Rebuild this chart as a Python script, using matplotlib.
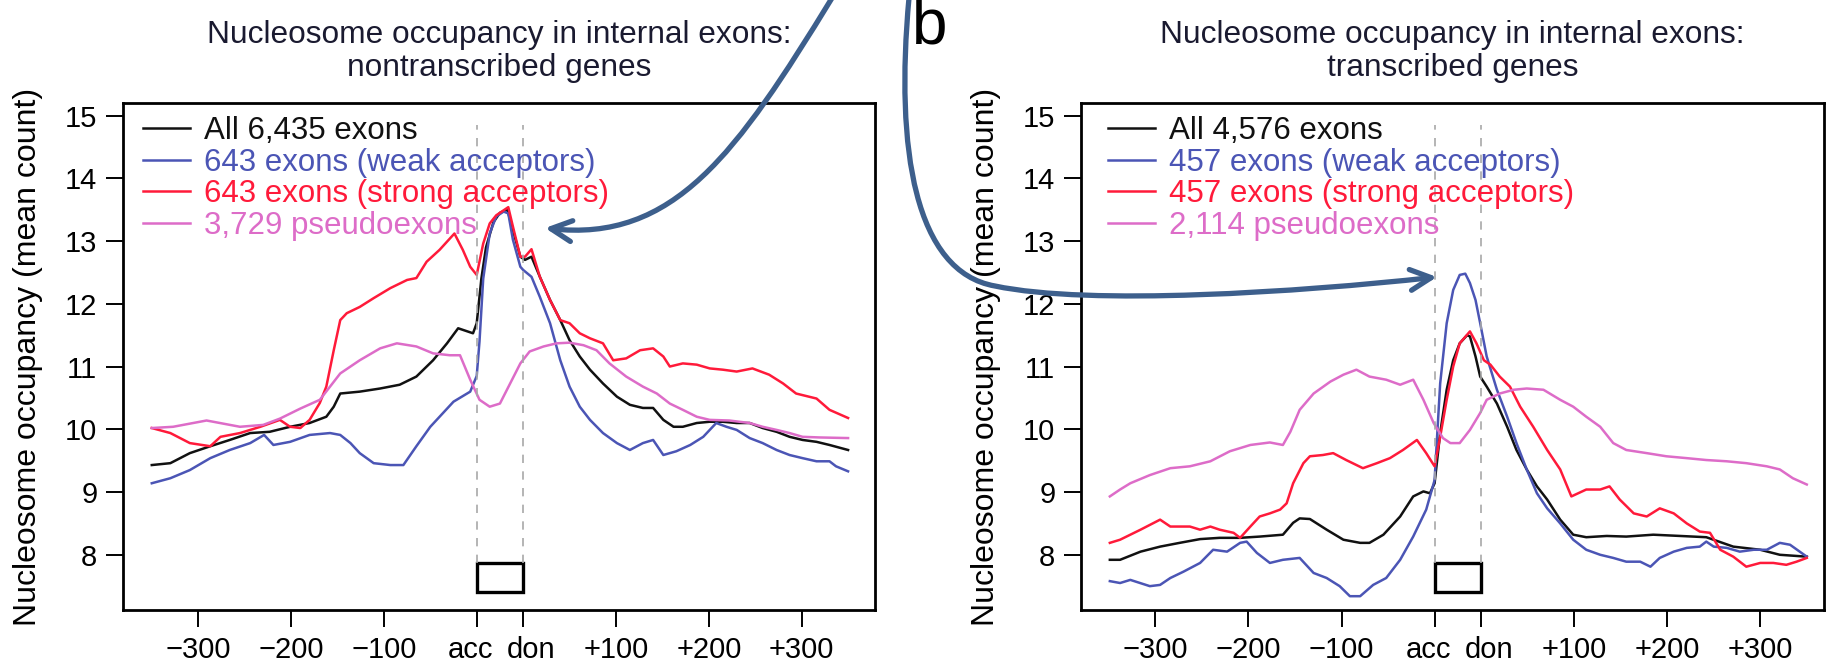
import matplotlib.pyplot as plt
from matplotlib.path import Path
from matplotlib.patches import FancyArrowPatch, Rectangle
from matplotlib.transforms import ScaledTranslation

plt.rcParams['font.family'] = ['Liberation Sans', 'DejaVu Sans']

# eixo x: acc = 0, don = 50, downstream medido a partir do don (+100 -> 150)
tick_pos = [-300, -200, -100, 0, 50, 150, 250, 350]
tick_lab = ['\u2212300', '\u2212200', '\u2212100', 'acc', 'don', '+100', '+200', '+300']

cores = ['#111111', '#4b55b5', '#ff1a3a', '#dd6cc8']

# painel a: genes nao transcritos
left_black_x = [-350, -330, -309, -287, -266, -244, -223, -201, -180, -162,
                -154, -147, -126, -104, -83, -65, -47, -32, -20, -4,
                0, 5, 10, 18, 25, 33, 40, 47, 52, 59,
                68, 79, 90, 100, 111, 122, 136, 151, 165, 179,
                190, 201, 212, 222, 237, 251, 265, 280, 294, 308,
                323, 337, 351, 366, 380, 400]
left_black_y = [9.43, 9.46, 9.62, 9.73, 9.83, 9.94, 9.96, 10.04, 10.10, 10.20,
                10.36, 10.57, 10.60, 10.65, 10.71, 10.84, 11.10, 11.37, 11.61, 11.53,
                11.69, 12.40, 12.90, 13.30, 13.45, 13.50, 13.12, 12.75, 12.70, 12.75,
                12.43, 12.06, 11.74, 11.42, 11.16, 10.95, 10.73, 10.52, 10.39, 10.34,
                10.34, 10.15, 10.04, 10.04, 10.10, 10.12, 10.12, 10.10, 10.10, 10.02,
                9.96, 9.88, 9.83, 9.80, 9.75, 9.67]

left_blue_x = [-350, -330, -309, -287, -266, -244, -229, -219, -201, -180,
               -158, -147, -136, -126, -111, -93, -79, -65, -50, -40,
               -25, -7, 0, 3, 7, 14, 21, 29, 34, 39,
               47, 50, 59, 68, 79, 90, 100, 111, 122, 136,
               151, 165, 179, 190, 201, 215, 230, 244, 258, 269,
               280, 294, 308, 323, 337, 351, 366, 380, 387, 400]
left_blue_y = [9.14, 9.22, 9.35, 9.54, 9.67, 9.78, 9.91, 9.75, 9.80, 9.91,
               9.94, 9.91, 9.78, 9.62, 9.46, 9.43, 9.43, 9.73, 10.04, 10.20,
               10.44, 10.60, 10.85, 11.40, 12.40, 13.12, 13.39, 13.47, 13.44, 13.02,
               12.59, 12.54, 12.43, 12.11, 11.69, 11.10, 10.68, 10.36, 10.15, 9.94,
               9.78, 9.67, 9.78, 9.83, 9.59, 9.65, 9.75, 9.88, 10.10, 10.04,
               9.99, 9.86, 9.78, 9.67, 9.59, 9.54, 9.49, 9.49, 9.41, 9.33]

left_red_x = [-350, -330, -309, -287, -276, -255, -233, -212, -201, -190,
              -180, -169, -162, -154, -147, -140, -126, -111, -93, -75,
              -65, -54, -40, -24, -15, -7, 0, 7, 14, 21,
              29, 34, 39, 47, 52, 59, 68, 79, 90, 100,
              111, 122, 136, 147, 161, 176, 190, 201, 208, 222,
              237, 251, 265, 280, 297, 315, 330, 344, 366, 380,
              400]
left_red_y = [10.02, 9.94, 9.78, 9.73, 9.88, 9.94, 10.04, 10.15, 10.04, 10.02,
              10.15, 10.42, 10.68, 11.26, 11.74, 11.85, 11.95, 12.09, 12.25, 12.38,
              12.41, 12.67, 12.86, 13.12, 12.86, 12.59, 12.46, 12.96, 13.28, 13.41,
              13.49, 13.54, 13.23, 12.75, 12.75, 12.87, 12.43, 12.06, 11.74, 11.69,
              11.53, 11.45, 11.37, 11.10, 11.13, 11.26, 11.29, 11.16, 11.00, 11.05,
              11.03, 10.97, 10.95, 10.92, 10.97, 10.87, 10.73, 10.57, 10.49, 10.31,
              10.18]

left_pink_x = [-350, -327, -291, -255, -230, -212, -190, -169, -147, -126,
               -104, -86, -65, -47, -29, -18, -7, 3, 14, 25,
               36, 47, 57, 72, 86, 100, 115, 129, 143, 161,
               179, 194, 208, 222, 237, 251, 272, 294, 308, 323,
               337, 351, 369, 400]
left_pink_y = [10.02, 10.04, 10.14, 10.04, 10.07, 10.17, 10.33, 10.47, 10.89, 11.10,
               11.29, 11.37, 11.32, 11.21, 11.18, 11.18, 10.79, 10.47, 10.36, 10.41,
               10.73, 11.05, 11.24, 11.32, 11.37, 11.38, 11.34, 11.26, 11.05, 10.84,
               10.68, 10.57, 10.41, 10.31, 10.20, 10.15, 10.14, 10.10, 10.04, 9.99,
               9.94, 9.88, 9.87, 9.86]

# painel b: genes transcritos
right_black_x = [-349, -338, -316, -295, -274, -252, -231, -209, -188, -163,
                 -152, -145, -134, -116, -98, -80, -70, -55, -37, -23,
                 -12, -5, 0, 6, 13, 20, 27, 35, 38, 44,
                 49, 56, 67, 78, 88, 99, 110, 121, 135, 149,
                 163, 185, 206, 235, 264, 292, 321, 350, 371, 400]
right_black_y = [7.92, 7.92, 8.05, 8.13, 8.19, 8.25, 8.27, 8.27, 8.29, 8.32,
                 8.51, 8.58, 8.57, 8.40, 8.24, 8.19, 8.19, 8.32, 8.61, 8.93,
                 9.01, 8.98, 9.14, 9.94, 10.63, 11.10, 11.37, 11.50, 11.48, 11.16,
                 10.84, 10.68, 10.41, 10.04, 9.67, 9.36, 9.09, 8.88, 8.56, 8.32,
                 8.28, 8.30, 8.29, 8.32, 8.30, 8.28, 8.13, 8.08, 8.00, 7.97]

right_blue_x = [-349, -338, -327, -306, -295, -284, -270, -252, -238, -223,
                -209, -202, -191, -177, -163, -145, -130, -116, -102, -91,
                -80, -66, -52, -37, -23, -9, 0, 6, 13, 20,
                27, 33, 38, 44, 49, 56, 67, 78, 88, 99,
                110, 121, 135, 149, 163, 178, 192, 206, 221, 232,
                242, 257, 271, 285, 292, 300, 314, 328, 343, 357,
                371, 382, 400]
right_blue_y = [7.58, 7.55, 7.60, 7.50, 7.52, 7.63, 7.73, 7.87, 8.08, 8.05,
                8.19, 8.21, 8.03, 7.87, 7.92, 7.95, 7.71, 7.63, 7.50, 7.34,
                7.34, 7.52, 7.63, 7.92, 8.29, 8.72, 9.19, 10.73, 11.69, 12.22,
                12.46, 12.48, 12.33, 12.06, 11.69, 11.16, 10.63, 10.20, 9.78, 9.36,
                8.98, 8.74, 8.50, 8.24, 8.08, 8.00, 7.95, 7.89, 7.89, 7.81,
                7.95, 8.05, 8.11, 8.13, 8.21, 8.13, 8.11, 8.05, 8.08, 8.08,
                8.19, 8.16, 7.97]

right_red_x = [-349, -338, -316, -295, -284, -263, -252, -241, -231, -216,
               -209, -198, -188, -177, -166, -159, -152, -141, -134, -120,
               -109, -95, -77, -62, -48, -34, -19, -9, 0, 6,
               13, 20, 27, 38, 45, 53, 60, 70, 81, 92,
               106, 121, 135, 147, 163, 178, 188, 199, 214, 228,
               242, 257, 271, 285, 296, 307, 321, 335, 350, 364,
               378, 389, 400]
right_red_y = [8.19, 8.24, 8.40, 8.56, 8.45, 8.45, 8.40, 8.45, 8.40, 8.35,
               8.27, 8.45, 8.61, 8.66, 8.72, 8.82, 9.14, 9.46, 9.57, 9.59,
               9.62, 9.51, 9.38, 9.46, 9.54, 9.67, 9.83, 9.62, 9.41, 9.88,
               10.47, 11.00, 11.37, 11.56, 11.37, 11.10, 11.03, 10.84, 10.68, 10.36,
               10.04, 9.67, 9.36, 8.93, 9.04, 9.04, 9.09, 8.88, 8.66, 8.61,
               8.74, 8.66, 8.50, 8.37, 8.35, 8.08, 7.97, 7.81, 7.87, 7.87,
               7.84, 7.89, 7.95]

right_pink_x = [-349, -338, -327, -306, -284, -263, -241, -220, -198, -177,
                -163, -155, -145, -130, -112, -98, -84, -70, -52, -37,
                -23, -12, -1, 9, 17, 27, 38, 49, 56, 70,
                85, 99, 117, 135, 149, 163, 178, 192, 206, 228,
                249, 271, 292, 314, 335, 357, 371, 385, 400]
right_pink_y = [8.93, 9.04, 9.14, 9.27, 9.38, 9.41, 9.49, 9.65, 9.75, 9.79,
                9.75, 9.96, 10.31, 10.57, 10.76, 10.87, 10.95, 10.84, 10.79, 10.71,
                10.79, 10.47, 10.10, 9.86, 9.78, 9.78, 9.99, 10.26, 10.47, 10.57,
                10.63, 10.65, 10.63, 10.47, 10.36, 10.20, 10.04, 9.78, 9.67, 9.62,
                9.57, 9.54, 9.51, 9.49, 9.46, 9.41, 9.36, 9.22, 9.12]

left_labels = ['All 6,435 exons', '643 exons (weak acceptors)',
               '643 exons (strong acceptors)', '3,729 pseudoexons']
right_labels = ['All 4,576 exons', '457 exons (weak acceptors)',
                '457 exons (strong acceptors)', '2,114 pseudoexons']

W, H = 1827, 664
fig = plt.figure(figsize=(W / 100, H / 100), dpi=100)
ax1 = fig.add_axes([123 / W, 1 - 610 / H, 752 / W, 507 / H])
ax2 = fig.add_axes([1081 / W, 1 - 610 / H, 743 / W, 507 / H])


def painel(ax, series, labels, titulo, xlim, leg_x):
    linhas = []
    for (x, y), c in zip(series, cores):
        l, = ax.plot(x, y, color=c, lw=1.8)
        linhas.append(l)
    # linhas tracejadas no acc e no don + caixinha do exon
    ax.vlines([0, 50], 7.87, 14.85, colors='#a8a8a8', linestyles=(0, (5, 5)), lw=1.2)
    ax.add_patch(Rectangle((0, 7.40), 50, 0.47, fill=False, ec='black', lw=2.4))
    ax.set_xlim(xlim)
    ax.set_ylim(7.12, 15.2)
    ax.set_yticks(range(8, 16))
    ax.set_xticks(tick_pos)
    ax.set_xticklabels(tick_lab)
    ax.tick_params(length=12.5, width=1.4, labelsize=21, pad=6)
    # afasta um pouco "acc" e "don" como no original
    labs = ax.get_xticklabels()
    labs[3].set_transform(labs[3].get_transform() + ScaledTranslation(-0.06, 0, fig.dpi_scale_trans))
    labs[4].set_transform(labs[4].get_transform() + ScaledTranslation(0.08, 0, fig.dpi_scale_trans))
    for s in ax.spines.values():
        s.set_linewidth(2)
    ax.set_ylabel('Nucleosome occupancy (mean count)', fontsize=23)
    ax.yaxis.set_label_coords(-0.107, 0.5)
    ax.text(0.5, 1.102, titulo, transform=ax.transAxes, ha='center', va='center',
            fontsize=22.8, linespacing=1.15, color='#1a1a30')
    leg = ax.legend(linhas, labels, loc='upper left', bbox_to_anchor=(leg_x, 0.975),
                    frameon=False, fontsize=22.5, handlelength=1.5, handletextpad=0.45,
                    borderpad=0, borderaxespad=0, labelspacing=0.06)
    for t, c in zip(leg.get_texts(), cores):
        t.set_color(c)


painel(ax1, [(left_black_x, left_black_y), (left_blue_x, left_blue_y),
             (left_red_x, left_red_y), (left_pink_x, left_pink_y)],
       left_labels, 'Nucleosome occupancy in internal exons:\nnontranscribed genes',
       (-381, 429), 0.027)
painel(ax2, [(right_black_x, right_black_y), (right_blue_x, right_blue_y),
             (right_red_x, right_red_y), (right_pink_x, right_pink_y)],
       right_labels, 'Nucleosome occupancy in internal exons:\ntranscribed genes',
       (-380, 418.5), 0.036)

# setas azuis desenhadas por cima da figura (coordenadas em pixels da imagem)
def px(x, y):
    return (x / W, 1 - y / H)

seta_cor = '#3d5f8c'
caminho1 = Path([px(832, -2), px(737, 153), px(674, 243), px(545, 228)],
                [Path.MOVETO, Path.CURVE4, Path.CURVE4, Path.CURVE4])
caminho2 = Path([px(909, -2), px(895, 150), px(915, 272), px(995, 286),
                 px(1090, 306), px(1300, 292), px(1437, 277)],
                [Path.MOVETO, Path.CURVE4, Path.CURVE4, Path.CURVE4,
                 Path.CURVE4, Path.CURVE4, Path.CURVE4])
for cam in [caminho1, caminho2]:
    seta = FancyArrowPatch(path=cam, transform=fig.transFigure,
                           arrowstyle='->,head_length=15,head_width=7.5',
                           mutation_scale=1, color=seta_cor, lw=3.8,
                           capstyle='round', joinstyle='round', zorder=10)
    fig.add_artist(seta)

fig.text(912 / W, 1 - 44 / H, 'b', fontsize=46, ha='left', va='baseline')

fig.savefig('out.png', dpi=100)
